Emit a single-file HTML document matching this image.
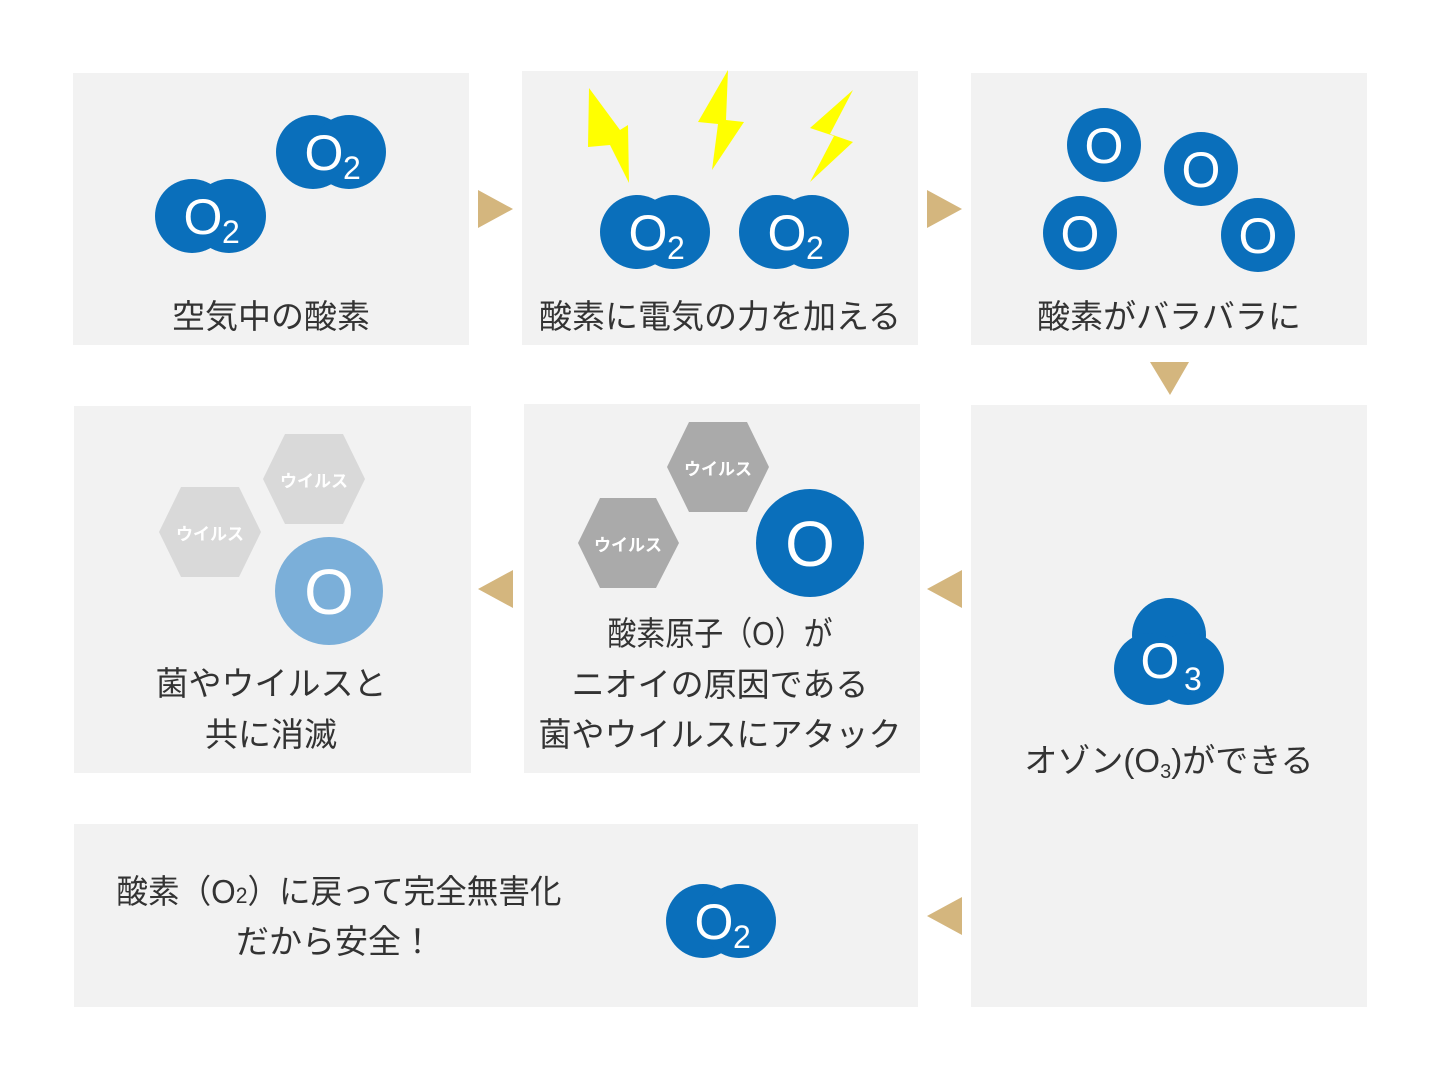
<!DOCTYPE html>
<html><head><meta charset="utf-8"><style>
html,body{margin:0;padding:0;background:#fff;}
svg{display:block;}
text{font-family:"Liberation Sans","Noto Sans CJK JP",sans-serif;}
.t{font-size:33px;fill:#333;text-anchor:middle;}
.o{font-size:50px;fill:#fff;text-anchor:middle;}
.s{font-size:32px;fill:#fff;}
.v{font-size:17px;fill:#fff;text-anchor:middle;font-weight:bold;}
</style></head><body>
<svg width="1440" height="1080" viewBox="0 0 1440 1080" xmlns="http://www.w3.org/2000/svg">
<g fill="#f2f2f2">
<rect x="73" y="73" width="396" height="272"/>
<rect x="522" y="71" width="396" height="274"/>
<rect x="971" y="73" width="396" height="272"/>
<rect x="74" y="406" width="397" height="367"/>
<rect x="524" y="404" width="396" height="369"/>
<rect x="971" y="405" width="396" height="602"/>
<rect x="74" y="824" width="844" height="183"/>
</g>
<g fill="#d4b67e">
<polygon points="478,190 513,209 478,228"/>
<polygon points="927,190 962,209 927,228"/>
<polygon points="1150,362 1189,362 1170,395"/>
<polygon points="513,570 478,589 513,608"/>
<polygon points="962,570 927,589 962,608"/>
<polygon points="962,897 927,916 962,935"/>
</g>
<g fill="#ffff00">
<polygon points="589,88 620,130 628,125 629,183 610,145 588,147"/>
<polygon points="728,70 698,122 718,124 712,170 744,122 726,120"/>
<polygon points="853,90 810,128 834,136 810,182 853,142 830,134"/>
</g>
<g fill="#0a6fbb">
<circle cx="192" cy="216" r="37"/><circle cx="229" cy="216" r="37"/>
<circle cx="313" cy="152" r="37"/><circle cx="349" cy="152" r="37"/>
<circle cx="637" cy="232" r="37"/><circle cx="673" cy="232" r="37"/>
<circle cx="776" cy="232" r="37"/><circle cx="812" cy="232" r="37"/>
<circle cx="703" cy="921" r="37"/><circle cx="739" cy="921" r="37"/>
<circle cx="1104" cy="145" r="37"/><circle cx="1201" cy="169" r="37"/>
<circle cx="1080" cy="233" r="37"/><circle cx="1258" cy="235" r="37"/>
<circle cx="810" cy="543" r="54"/>
<circle cx="1169" cy="635" r="37"/><circle cx="1150" cy="669" r="36"/><circle cx="1188" cy="669" r="36"/>
</g>
<circle cx="329" cy="591" r="54" fill="#7bafd9"/>
<polygon fill="#d9d9d9" points="285,434 343,434 365,479 343,524 285,524 263,479"/>
<polygon fill="#d9d9d9" points="181,487 239,487 261,532 239,577 181,577 159,532"/>
<polygon fill="#aaaaaa" points="689,422 747,422 769,467 747,512 689,512 667,467"/>
<polygon fill="#aaaaaa" points="600,498 656,498 679,543 656,588 600,588 578,543"/>
<text class="v" x="314" y="487">ウイルス</text>
<text class="v" x="210" y="540">ウイルス</text>
<text class="v" x="718" y="475">ウイルス</text>
<text class="v" x="628" y="551">ウイルス</text>
<g>
<text class="o" x="203" y="234">O</text><text class="s" x="222" y="243">2</text>
<text class="o" x="324" y="170">O</text><text class="s" x="343" y="179">2</text>
<text class="o" x="648" y="250">O</text><text class="s" x="667" y="259">2</text>
<text class="o" x="787" y="250">O</text><text class="s" x="806" y="259">2</text>
<text class="o" x="714" y="939">O</text><text class="s" x="733" y="948">2</text>
<text class="o" x="1160" y="678">O</text><text class="s" x="1184" y="690">3</text>
<text class="o" x="1104" y="163">O</text><text class="o" x="1201" y="187">O</text>
<text class="o" x="1080" y="251">O</text><text class="o" x="1258" y="253">O</text>
<text class="o" x="810" y="566" style="font-size:64px">O</text>
<text class="o" x="329" y="614" style="font-size:64px">O</text>
</g>
<text class="t" x="271" y="328">空気中の酸素</text>
<text class="t" x="720" y="328">酸素に電気の力を加える</text>
<text class="t" x="1169" y="328">酸素がバラバラに</text>
<text class="t" x="271" y="695">菌やウイルスと</text>
<text class="t" x="271" y="746">共に消滅</text>
<text class="t" x="720" y="645" textLength="225" lengthAdjust="spacingAndGlyphs">酸素原子（O）が</text>
<text class="t" x="720" y="696">ニオイの原因である</text>
<text class="t" x="720" y="746">菌やウイルスにアタック</text>
<text class="t" x="1169" y="772">オゾン(O<tspan style="font-size:20px" dy="6">3</tspan><tspan dy="-6">)ができる</tspan></text>
<text class="t" x="339" y="903" textLength="445" lengthAdjust="spacingAndGlyphs">酸素（O<tspan style="font-size:22px">2</tspan>）に戻って完全無害化</text>
<text class="t" x="335" y="953">だから安全！</text>
</svg>
</body></html>
